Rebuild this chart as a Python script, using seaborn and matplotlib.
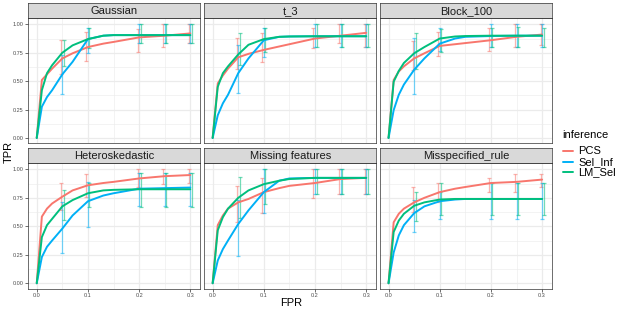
import numpy as np
import pandas as pd
import matplotlib
matplotlib.use("Agg")
import matplotlib.pyplot as plt
import seaborn as sns
from matplotlib.patches import Rectangle
from matplotlib.lines import Line2D

sns.set_theme(style="white")
plt.rcParams['font.family'] = ['Liberation Sans', 'DejaVu Sans']

# ---------------- data ----------------
scenarios = ["Gaussian", "t_3", "Block_100", "Heteroskedastic", "Missing features", "Misspecified_rule"]
methods = ["PCS", "Sel_Inf", "LM_Sel"]
colors = ["#F8766D", "#00B0F6", "#00BF7D"]

fpr = [0, .01, .02, .03, .05, .07, .10, .13, .15, .20, .25, .30]

gaussian_pcs = [0, .51, .56, .61, .70, .745, .80, .83, .845, .885, .90, .92]
gaussian_sel = [0, .275, .36, .42, .56, .67, .87, .90, .905, .905, .905, .905]
gaussian_lm = [0, .42, .57, .64, .75, .815, .87, .90, .905, .905, .905, .905]

t3_pcs = [0, .48, .55, .61, .71, .74, .775, .805, .825, .875, .90, .925]
t3_sel = [0, .20, .305, .38, .57, .70, .86, .89, .893, .895, .895, .895]
t3_lm = [0, .45, .57, .63, .735, .82, .87, .89, .893, .895, .895, .895]

block_pcs = [0, .51, .585, .63, .70, .745, .81, .825, .835, .86, .89, .91]
block_sel = [0, .245, .38, .47, .60, .70, .83, .875, .89, .897, .90, .90]
block_lm = [0, .495, .59, .66, .745, .80, .875, .893, .897, .90, .90, .90]

hetero_pcs = [0, .585, .655, .70, .76, .815, .86, .88, .89, .92, .94, .95]
hetero_sel = [0, .23, .32, .375, .48, .595, .72, .77, .79, .83, .835, .84]
hetero_lm = [0, .405, .51, .565, .675, .73, .79, .815, .82, .825, .825, .825]

missing_pcs = [0, .51, .595, .655, .71, .74, .80, .835, .855, .88, .915, .925]
missing_sel = [0, .20, .30, .375, .52, .64, .80, .90, .92, .925, .925, .925]
missing_lm = [0, .465, .58, .655, .75, .815, .87, .90, .915, .925, .925, .925]

misspec_pcs = [0, .535, .61, .655, .71, .75, .80, .83, .845, .88, .89, .91]
misspec_sel = [0, .27, .42, .51, .615, .675, .72, .735, .74, .74, .74, .74]
misspec_lm = [0, .45, .55, .61, .68, .71, .735, .74, .74, .74, .74, .74]

# error bars (lower, upper) at these FPR values
err_fpr = [.05, .10, .20, .25, .30]

gaussian_pcs_lo = [.56, .68, .76, .80, .84]; gaussian_pcs_hi = [.86, .93, .96, 1.0, 1.0]
gaussian_sel_lo = [.39, .75, .84, .84, .84]; gaussian_sel_hi = [.73, .97, 1.0, 1.0, 1.0]
gaussian_lm_lo = [.63, .79, .84, .84, .84]; gaussian_lm_hi = [.86, .97, 1.0, 1.0, 1.0]

t3_pcs_lo = [.61, .665, .795, .84, .80]; t3_pcs_hi = [.88, .92, .965, 1.0, 1.0]
t3_sel_lo = [.40, .715, .80, .80, .80]; t3_sel_hi = [.82, .965, 1.0, 1.0, 1.0]
t3_lm_lo = [.64, .76, .80, .80, .80]; t3_lm_hi = [.92, .97, 1.0, 1.0, 1.0]

block_pcs_lo = [.60, .72, .765, .80, .82]; block_pcs_hi = [.85, .935, .97, 1.0, 1.0]
block_sel_lo = [.39, .765, .80, .80, .80]; block_sel_hi = [.88, .965, 1.0, 1.0, 1.0]
block_lm_lo = [.61, .76, .80, .80, .80]; block_lm_hi = [.92, .96, .97, .975, .97]

hetero_pcs_lo = [.645, .755, .845, .875, .88]; hetero_pcs_hi = [.88, .96, 1.0, 1.0, 1.0]
hetero_sel_lo = [.265, .49, .68, .68, .68]; hetero_sel_hi = [.71, .885, .965, .965, .965]
hetero_lm_lo = [.555, .67, .67, .67, .67]; hetero_lm_hi = [.815, .88, .965, .965, .965]

missing_pcs_lo = [.535, .62, .75, .78, .78]; missing_pcs_hi = [.85, .925, 1.0, 1.0, 1.0]
missing_sel_lo = [.235, .62, .78, .78, .78]; missing_sel_hi = [.73, 1.0, 1.0, 1.0, 1.0]
missing_lm_lo = [.57, .70, .78, .78, .78]; missing_lm_hi = [.93, 1.0, 1.0, 1.0, 1.0]

misspec_pcs_lo = [.625, .71, .80, .80, .845]; misspec_pcs_hi = [.845, .88, .925, .96, .96]
misspec_sel_lo = [.45, .565, .565, .565, .565]; misspec_sel_hi = [.735, .80, .88, .88, .88]
misspec_lm_lo = [.545, .595, .595, .595, .595]; misspec_lm_hi = [.80, .88, .88, .88, .88]

x_ticks = [0.0, 0.1, 0.2, 0.3]
x_ticklabels = ["0.0", "0.1", "0.2", "0.3"]
y_ticks = [0.0, 0.25, 0.5, 0.75, 1.0]
y_ticklabels = ["0.00", "0.25", "0.50", "0.75", "1.00"]

# ---------------- assemble ----------------
curves = {
    "Gaussian": [gaussian_pcs, gaussian_sel, gaussian_lm],
    "t_3": [t3_pcs, t3_sel, t3_lm],
    "Block_100": [block_pcs, block_sel, block_lm],
    "Heteroskedastic": [hetero_pcs, hetero_sel, hetero_lm],
    "Missing features": [missing_pcs, missing_sel, missing_lm],
    "Misspecified_rule": [misspec_pcs, misspec_sel, misspec_lm],
}
bars = {
    "Gaussian": [(gaussian_pcs_lo, gaussian_pcs_hi), (gaussian_sel_lo, gaussian_sel_hi), (gaussian_lm_lo, gaussian_lm_hi)],
    "t_3": [(t3_pcs_lo, t3_pcs_hi), (t3_sel_lo, t3_sel_hi), (t3_lm_lo, t3_lm_hi)],
    "Block_100": [(block_pcs_lo, block_pcs_hi), (block_sel_lo, block_sel_hi), (block_lm_lo, block_lm_hi)],
    "Heteroskedastic": [(hetero_pcs_lo, hetero_pcs_hi), (hetero_sel_lo, hetero_sel_hi), (hetero_lm_lo, hetero_lm_hi)],
    "Missing features": [(missing_pcs_lo, missing_pcs_hi), (missing_sel_lo, missing_sel_hi), (missing_lm_lo, missing_lm_hi)],
    "Misspecified_rule": [(misspec_pcs_lo, misspec_pcs_hi), (misspec_sel_lo, misspec_sel_hi), (misspec_lm_lo, misspec_lm_hi)],
}

rows = []
for sc in scenarios:
    for m, vals in zip(methods, curves[sc]):
        for xv, yv in zip(fpr, vals):
            rows.append((sc, m, xv, yv))
df = pd.DataFrame(rows, columns=["scenario", "inference", "FPR", "TPR"])

# ---------------- figure ----------------
W, H = 623, 312
fig = plt.figure(figsize=(W / 100, H / 100), dpi=100)
fig.patch.set_facecolor("white")

lefts = [28.3, 204.2, 380.1]
pw = 172.0
rows_px = [(18.3, 143.3, 3.0), (163.3, 288.6, 147.8)]  # (axes top, axes bottom, strip top)

dodge = [-0.003, 0.0, 0.003]
border_col = "#333333"
grid_col = "#EBEBEB"

for i, sc in enumerate(scenarios):
    r, c = divmod(i, 3)
    top, bot, stop = rows_px[r]
    ax = fig.add_axes([lefts[c] / W, 1 - bot / H, pw / W, (bot - top) / H])
    ax.set_facecolor("white")
    ax.set_xlim(-0.0165, 0.3195)
    ax.set_ylim(-0.047, 1.053)
    # grid
    for gx in [0.05, 0.15, 0.25]:
        ax.axvline(gx, color=grid_col, lw=0.4, zorder=0)
    for gy in [0.125, 0.375, 0.625, 0.875]:
        ax.axhline(gy, color=grid_col, lw=0.4, zorder=0)
    for gx in x_ticks:
        ax.axvline(gx, color=grid_col, lw=0.9, zorder=0)
    for gy in y_ticks:
        ax.axhline(gy, color=grid_col, lw=0.9, zorder=0)

    # error bars
    for k, (lo, hi) in enumerate(bars[sc]):
        lo = np.array(lo); hi = np.array(hi)
        mid = (lo + hi) / 2
        ax.errorbar(np.array(err_fpr) + dodge[k], mid, yerr=[mid - lo, hi - mid],
                    fmt="none", ecolor=colors[k], elinewidth=0.9, capsize=1.1,
                    capthick=0.9, alpha=0.55, zorder=2)

    sub = df[df["scenario"] == sc]
    sns.lineplot(data=sub, x="FPR", y="TPR", hue="inference", hue_order=methods,
                 palette=colors, ax=ax, legend=False, linewidth=1.4, errorbar=None,
                 zorder=3)

    ax.set_xlabel("")
    ax.set_ylabel("")
    ax.set_xticks(x_ticks)
    ax.set_yticks(y_ticks)
    if r == 1:
        ax.set_xticklabels(x_ticklabels)
    else:
        ax.set_xticklabels([])
    if c == 0:
        ax.set_yticklabels(y_ticklabels)
    else:
        ax.set_yticklabels([])
    ax.tick_params(axis="both", which="both", length=2, width=0.5, color=border_col,
                   labelsize=4, labelcolor="#4D4D4D", pad=1.5, direction="out")
    ax.tick_params(bottom=(r == 1), left=(c == 0))
    for sp in ax.spines.values():
        sp.set_color(border_col)
        sp.set_linewidth(0.5)
        sp.set_visible(True)

    # strip
    sh = top - stop
    sax = fig.add_axes([lefts[c] / W, 1 - top / H, pw / W, sh / H])
    sax.set_facecolor("#D9D9D9")
    sax.set_xticks([]); sax.set_yticks([])
    for sp in sax.spines.values():
        sp.set_color(border_col)
        sp.set_linewidth(0.5)
    sax.text(0.5, 0.47, sc, ha="center", va="center", fontsize=8, color="#1A1A1A",
             transform=sax.transAxes)

# axis titles
fig.text(291 / W, 1 - 302.5 / H, "FPR", ha="center", va="center", fontsize=8, color="black")
fig.text(9 / W, 1 - 152 / H, "TPR", ha="center", va="center", fontsize=8, rotation=90, color="black")

# legend
fig.text(562.5 / W, 1 - 135 / H, "inference", ha="left", va="center", fontsize=8, color="black")
for k, (m, col) in enumerate(zip(methods, colors)):
    yy = 1 - (151 + 10.7 * k) / H
    fig.add_artist(Line2D([563 / W, 572.5 / W], [yy, yy], color=col, lw=1.4,
                          transform=fig.transFigure))
    fig.text(578 / W, yy, m, ha="left", va="center", fontsize=8, color="black")

fig.savefig("out.png", dpi=100, facecolor="white")
